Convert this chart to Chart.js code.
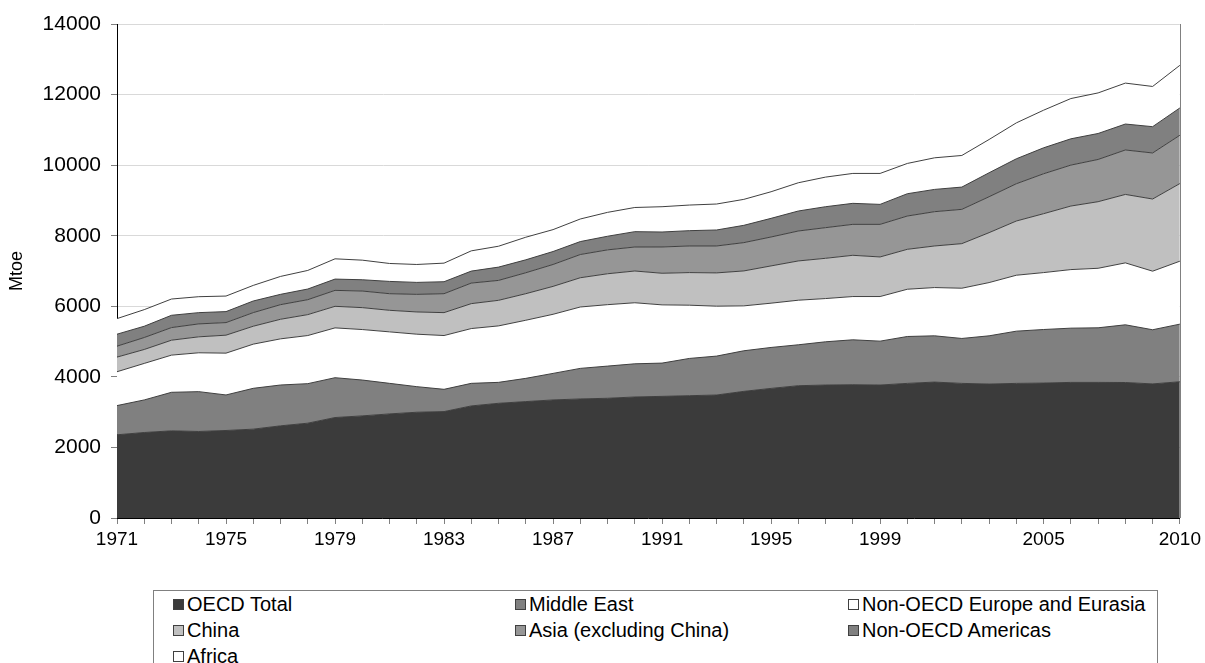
<!DOCTYPE html>
<html lang="en">
<head>
<meta charset="UTF-8">
<title>Mtoe by region</title>
<script src="https://cdn.jsdelivr.net/npm/chart.js"></script>
<style>
    body { margin: 0; background: #fff; font-family: "Liberation Sans", Arial, sans-serif; }
    .wrap { position: relative; width: 1205px; height: 663px; overflow: hidden; }
    .chart-box { position: absolute; left: 0; top: 0; width: 1205px; height: 575px; }
    .legend {
        position: absolute; left: 153px; top: 590px; width: 1005px; height: 100px;
        border: 1px solid #808080; box-sizing: border-box;
        display: grid; grid-template-columns: 342px 333px auto; grid-auto-rows: 26px;
        padding: 0 0 0 19px; font-size: 20px; color: #000;
    }
    .legend span { display: flex; align-items: center; white-space: nowrap; }
    .legend i { display: inline-block; width: 9px; height: 9px; border: 1px solid #404040; margin-right: 3px; }
</style>
</head>
<body>
<div class="wrap">
    <div class="chart-box"><canvas id="areaChart"></canvas></div>
    <div class="legend" id="legend"></div>
</div>
<script>
const years = [];
for (let y = 1971; y <= 2010; y++) years.push(String(y));
const shownYears = ['1971', '1975', '1979', '1983', '1987', '1991', '1995', '1999', '2005', '2010'];

const oecd = [2358, 2423, 2470, 2452, 2480, 2518, 2612, 2687, 2847, 2894, 2950, 2997, 3016, 3176, 3251, 3299, 3346, 3374, 3393, 3430,
    3447, 3466, 3485, 3589, 3673, 3749, 3768, 3777, 3768, 3815, 3852, 3815, 3796, 3815, 3824, 3843, 3843, 3840, 3800, 3861];
const middleEast = [828, 923, 1092, 1129, 1007, 1157, 1157, 1120, 1129, 1016, 866, 725, 631, 640, 593, 658, 752, 866, 912, 940,
    943, 1056, 1103, 1150, 1160, 1160, 1226, 1273, 1244, 1329, 1311, 1273, 1367, 1480, 1518, 1537, 1547, 1635, 1535, 1633];
const nonOecdEurope = [959, 1035, 1054, 1101, 1185, 1252, 1308, 1364, 1412, 1431, 1459, 1487, 1524, 1553, 1600, 1647, 1675, 1740, 1741, 1730,
    1650, 1509, 1415, 1273, 1255, 1263, 1225, 1226, 1264, 1339, 1368, 1424, 1509, 1585, 1613, 1660, 1687, 1755, 1660, 1784];
const china = [415, 395, 423, 452, 509, 508, 555, 593, 611, 621, 611, 630, 649, 706, 725, 753, 791, 829, 876, 900,
    896, 924, 943, 990, 1056, 1113, 1141, 1169, 1122, 1132, 1178, 1263, 1415, 1537, 1669, 1801, 1887, 1940, 2045, 2200];
const asia = [310, 339, 358, 367, 357, 386, 414, 423, 452, 470, 471, 499, 537, 583, 564, 593, 621, 658, 677, 680,
    745, 754, 763, 802, 820, 849, 868, 877, 924, 943, 972, 972, 1018, 1056, 1132, 1160, 1197, 1260, 1305, 1369];
const nonOecdAmericas = [339, 320, 348, 319, 311, 329, 292, 302, 320, 320, 348, 339, 339, 339, 377, 367, 367, 367, 386, 435,
    424, 434, 453, 490, 528, 566, 594, 595, 566, 632, 631, 631, 679, 707, 735, 745, 736, 735, 745, 774];
const africa = [442, 470, 461, 452, 441, 442, 508, 527, 574, 555, 508, 508, 527, 574, 592, 640, 621, 640, 677, 685,
    717, 726, 736, 736, 754, 801, 839, 848, 877, 858, 896, 896, 943, 1018, 1066, 1141, 1150, 1160, 1140, 1208];

const series = [
    { label: 'OECD Total', data: oecd, color: '#3b3b3b' },
    { label: 'Middle East', data: middleEast, color: '#808080' },
    { label: 'Non-OECD Europe and Eurasia', data: nonOecdEurope, color: '#ffffff' },
    { label: 'China', data: china, color: '#c0c0c0' },
    { label: 'Asia (excluding China)', data: asia, color: '#969696' },
    { label: 'Non-OECD Americas', data: nonOecdAmericas, color: '#808080' },
    { label: 'Africa', data: africa, color: '#ffffff' }
];

// legend hecha a mano (3 columnas como en el original)
const legend = document.getElementById('legend');
series.forEach(s => {
    const item = document.createElement('span');
    item.innerHTML = `<i style="background:${s.color}"></i>${s.label}`;
    legend.appendChild(item);
});

const rightBorder = {
    id: 'rightBorder',
    afterDraw(chart) {
        const { ctx, chartArea } = chart;
        ctx.save();
        ctx.strokeStyle = '#808080';
        ctx.lineWidth = 1;
        ctx.beginPath();
        ctx.moveTo(Math.round(chartArea.right) + 0.5, chartArea.top);
        ctx.lineTo(Math.round(chartArea.right) + 0.5, chartArea.bottom);
        ctx.stroke();
        ctx.restore();
    }
};

const family = '"Liberation Sans", Arial, sans-serif';

new Chart(document.getElementById('areaChart'), {
    type: 'line',
    data: {
        labels: years,
        datasets: series.map((s, i) => ({
            label: s.label,
            data: s.data,
            backgroundColor: s.color,
            borderColor: '#404040',
            borderWidth: 1,
            pointRadius: 0,
            tension: 0,
            fill: i === 0 ? 'origin' : '-1'
        }))
    },
    options: {
        responsive: true,
        maintainAspectRatio: false,
        animation: false,
        layout: { padding: { left: 0, right: 25, top: 24, bottom: 0 } },
        plugins: {
            legend: { display: false },
            tooltip: { enabled: false }
        },
        scales: {
            x: {
                ticks: {
                    autoSkip: false,
                    maxRotation: 0,
                    padding: 4,
                    color: '#000',
                    font: { family: family, size: 19 },
                    callback: function (val) {
                        const lbl = this.getLabelForValue(val);
                        return shownYears.includes(lbl) ? lbl : '';
                    }
                },
                grid: { drawOnChartArea: false, tickLength: 6, color: '#808080' },
                border: { color: '#000' },
                afterFit: scale => { scale.height = 57; }
            },
            y: {
                stacked: true,
                min: 0,
                max: 14000,
                ticks: {
                    stepSize: 2000, color: '#000', font: { family: family, size: 21 }, padding: 10,
                    callback: v => String(v)
                },
                grid: { color: '#d9d9d9', tickColor: '#808080', tickLength: 6 },
                border: { color: '#000' },
                title: {
                    display: true, text: 'Mtoe', color: '#000',
                    font: { family: family, size: 18 },
                    padding: { top: 6, bottom: 0 }
                },
                afterFit: scale => { scale.width = 117; }
            }
        }
    },
    plugins: [rightBorder]
});
</script>
</body>
</html>
